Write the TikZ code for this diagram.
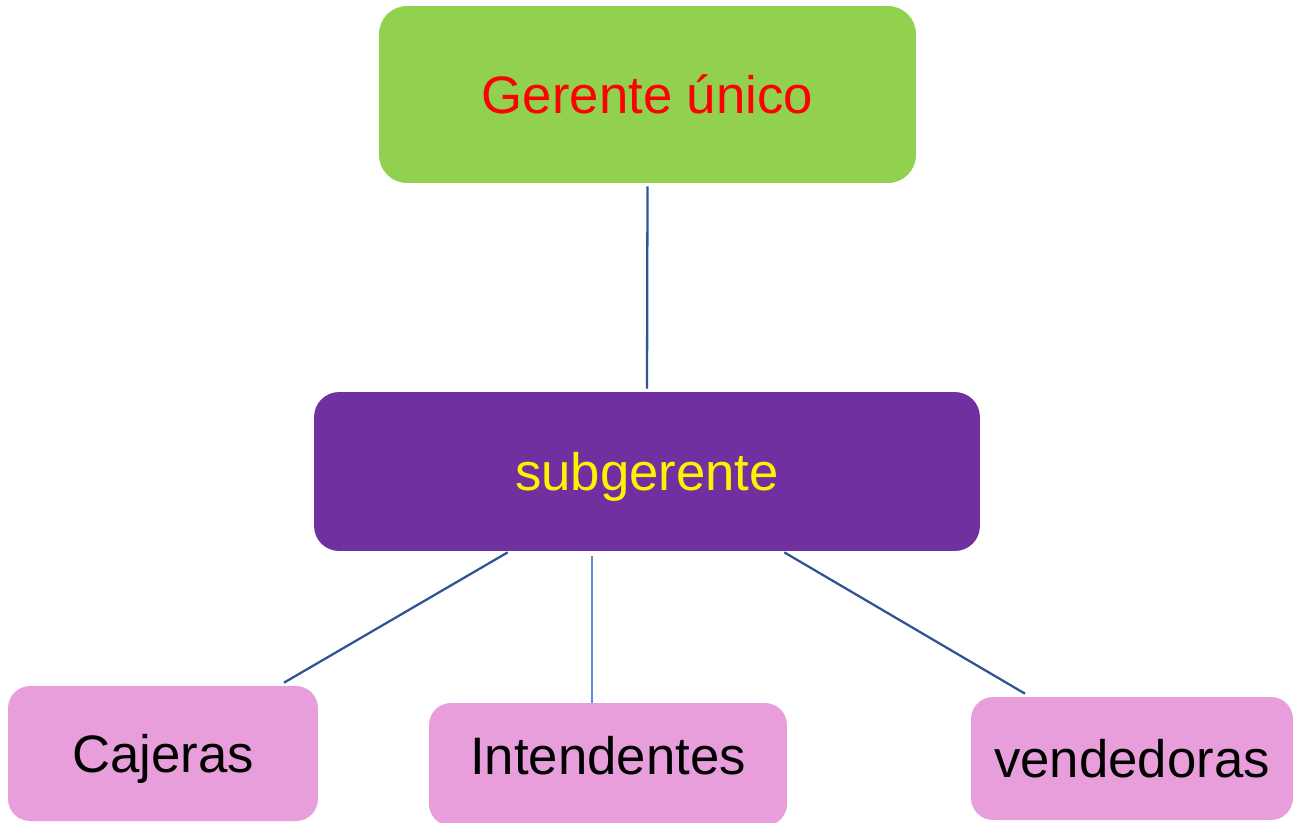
\documentclass[tikz,border=0pt]{standalone}
\usepackage{fontspec}
\setmainfont{Liberation Sans}
\usetikzlibrary{calc}

\definecolor{bossgreen}{HTML}{92D050}
\definecolor{subpurple}{HTML}{7030A0}
\definecolor{staffpink}{HTML}{E79EDB}
\definecolor{linkblue}{HTML}{2F5597}
\definecolor{lightlink}{HTML}{5B8BD6}

\begin{document}
\begin{tikzpicture}[
    x=0.02cm, y=-0.02cm,
    box/.style={rectangle, inner sep=0pt, text height=0.76cm, text depth=0pt,
                font=\fontsize{30}{36}\selectfont},
    staff/.style={box, fill=staffpink, rounded corners=0.44cm},
    link/.style={draw=linkblue, line width=1.3pt}
  ]
    \useasboundingbox (0,0) rectangle (1301,822);

    % Top levels
    \node[box, fill=bossgreen, rounded corners=0.56cm, text=red,
          minimum width=10.74cm, minimum height=3.54cm] (ger) at (647.5,94.5) {Gerente único};
    \node[box, fill=subpurple, rounded corners=0.5cm, text=yellow,
          minimum width=13.32cm, minimum height=3.18cm] (sub) at (647,471.5) {subgerente};

    % Staff
    \node[staff, minimum width=6.2cm, minimum height=2.7cm] (caj) at (163,753.5) {Cajeras};
    \node[staff, minimum width=7.16cm, minimum height=2.46cm, text depth=0.36cm] (int) at (608,764.5) {Intendentes};
    \node[staff, minimum width=6.44cm, minimum height=2.46cm] (ven) at (1132,758.5) {vendedoras};

    % Connectors
    \coordinate (mid) at ($(sub.south west)+(278,5)$);
    \draw[link, shorten <=0.06cm, shorten >=0.06cm] (ger.south) -- (sub.north);
    \draw[link] ($(sub.south west)+(194,1)$) -- ($(caj.north)+(121,-3)$);
    \draw[draw=lightlink, line width=1pt] (mid) -- (mid |- int.north);
    \draw[link] ($(sub.south east)+(-196,1)$) -- ($(ven.north)+(-107,-3)$);
  \end{tikzpicture}
\end{document}
